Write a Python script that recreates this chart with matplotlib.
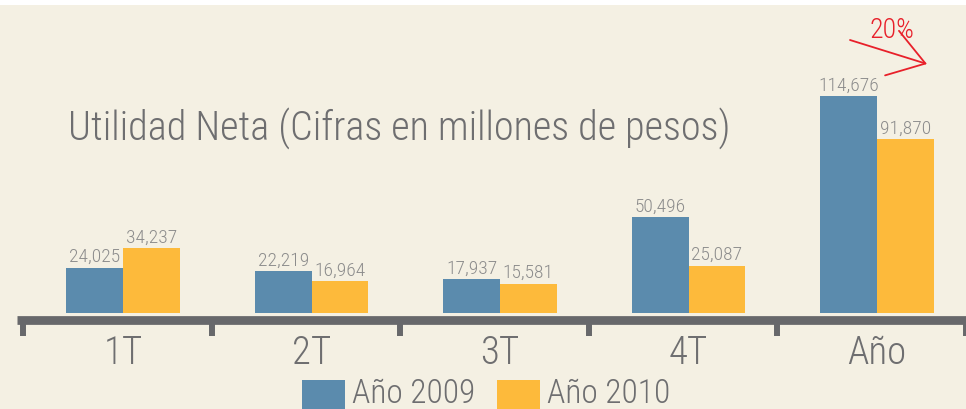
import numpy as np
import matplotlib
matplotlib.use("Agg")
import matplotlib.pyplot as plt

# data
categories = ["1T", "2T", "3T", "4T", "Año"]
utilidad_2009 = [24025, 22219, 17937, 50496, 114676]
utilidad_2010 = [34237, 16964, 15581, 25087, 91870]
value_labels_2009 = ["24,025", "22,219", "17,937", "50,496", "114,676"]
value_labels_2010 = ["34,237", "16,964", "15,581", "25,087", "91,870"]
series_names = ["Año 2009", "Año 2010"]

BG = "#F4F0E3"
BLUE = "#5B8BAD"
ORANGE = "#FDBA3B"
AXIS_GRAY = "#67686B"
TEXT_GRAY = "#6E6E70"
LABEL_GRAY = "#8C8C8C"
RED = "#E8202A"

plt.rcParams["font.family"] = ["Roboto Condensed", "Liberation Sans Narrow",
                               "Roboto", "DejaVu Sans"]
plt.rcParams["font.weight"] = "light"

W, H = 966, 409
fig = plt.figure(figsize=(W / 100, H / 100), dpi=100, facecolor="white")
# cream panel under a thin white strip at the top
fig.patches.append(plt.Rectangle((0, 0), 1, 1 - 5 / H, transform=fig.transFigure,
                                 facecolor=BG, edgecolor="none", zorder=-10))

ax = fig.add_axes([0, 1 - 313 / H, 1, 313 / H])
ax.set_facecolor("none")
for s in ax.spines.values():
    s.set_visible(False)
ax.set_xticks([])
ax.set_yticks([])

x = np.arange(len(categories))
width = 0.30
ax.set_xlim(-123 / 188.5, (W - 123) / 188.5)
ymax = 313 / 217 * 114676
ax.set_ylim(0, ymax)

b1 = ax.bar(x - width / 2, utilidad_2009, width, color=BLUE, zorder=3)
b2 = ax.bar(x + width / 2, utilidad_2010, width, color=ORANGE, zorder=3)

for rects, labels in ((b1, value_labels_2009), (b2, value_labels_2010)):
    for r, lab in zip(rects, labels):
        ax.text(r.get_x() + r.get_width() / 2, r.get_height() + ymax * 0.004, lab,
                ha="center", va="bottom", fontsize=14, color=LABEL_GRAY)

# thick baseline with tick marks hanging below
px = ymax / 313
base_y = -6.5 * px
ax.plot([-0.56, 4.6], [base_y, base_y], color=AXIS_GRAY, lw=6.3,
        solid_capstyle="butt", clip_on=False, zorder=2)
for b in np.append(x - 0.53, 4.47):
    ax.plot([b, b], [base_y, -23 * px], color=AXIS_GRAY, lw=4.3,
            solid_capstyle="butt", clip_on=False, zorder=2)

for xi, c in zip(x, categories):
    ax.text(xi, -40 * px, c, ha="center", va="center", fontsize=28,
            color=TEXT_GRAY, clip_on=False)

ax.text(68 / W, 1 - 128 / H, "Utilidad Neta (Cifras en millones de pesos)",
        transform=fig.transFigure, ha="left", va="center", fontsize=29,
        color=TEXT_GRAY)

# legend drawn by hand
for xs, name, col in ((302, series_names[0], BLUE), (497, series_names[1], ORANGE)):
    fig.patches.append(plt.Rectangle((xs / W, 0), 43 / W, 29 / H,
                                     transform=fig.transFigure, facecolor=col,
                                     edgecolor="none", zorder=3))
    fig.text((xs + 50) / W, 15 / H, name, ha="left", va="center",
             fontsize=24, color=TEXT_GRAY)

# red 20% arrow
fig.text(892 / W, 1 - 31 / H, "20%", ha="center", va="center", fontsize=20,
         color=RED)
ax.annotate("", xy=(927 / W, 1 - 64 / H), xytext=(850 / W, 1 - 40 / H),
            xycoords="figure fraction", textcoords="figure fraction",
            arrowprops=dict(arrowstyle="->,head_length=1.8,head_width=1.2",
                            mutation_scale=14, color=RED, lw=1.3,
                            shrinkA=0, shrinkB=0))

fig.savefig("out.png", dpi=100, facecolor=fig.get_facecolor())
